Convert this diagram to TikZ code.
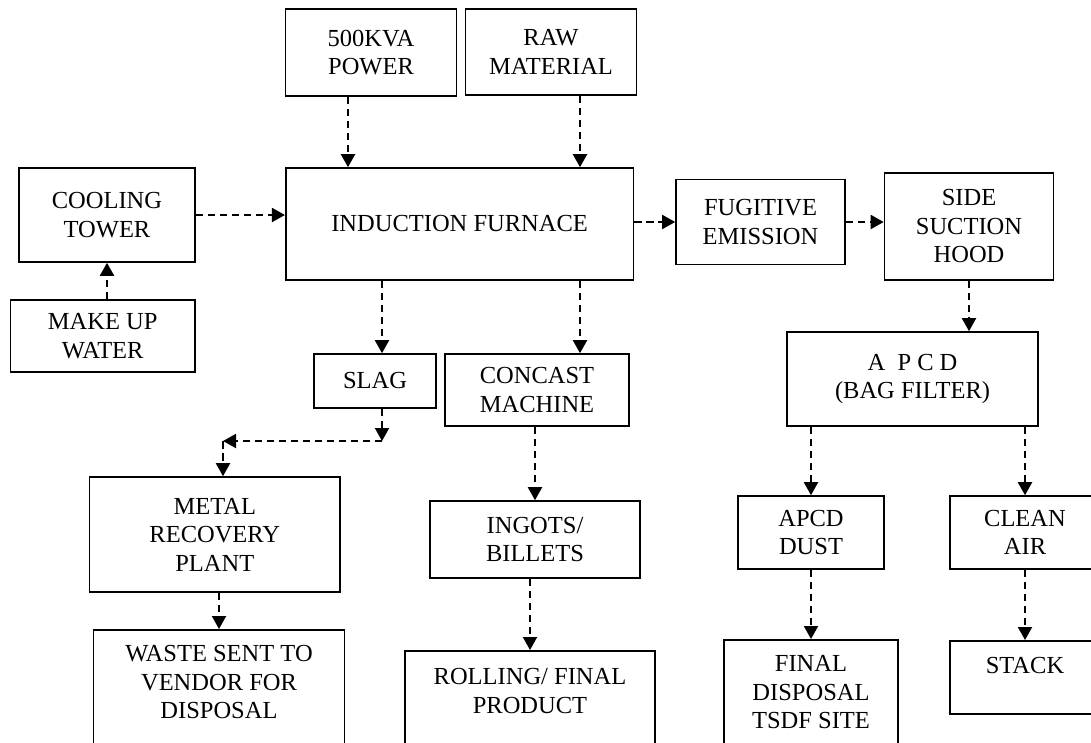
\documentclass[tikz,border=0pt]{standalone}
\usepackage{fontspec}
\setmainfont{Liberation Serif}
\usetikzlibrary{arrows.meta}

\begin{document}
\begin{tikzpicture}[x=1pt,y=-1pt,
    box/.style={draw, line width=1.6pt, align=center, inner sep=0pt, font=\fontsize{24.5}{28.5}\selectfont},
    topbox/.style={box, anchor=north, text height=#1, text depth=130pt},
    flow/.style={line width=2pt, dash pattern=on 7.5pt off 4.5pt, -{Triangle[length=13pt,width=14pt]}}]
            \useasboundingbox (0,0) rectangle (1091,742);
            \clip (0,0) rectangle (1091,742); % bottom and right boxes run off the page
            \node[box, minimum width=171pt, minimum height=87pt]   (b_power)    at (371,52.5)   {500KVA\\POWER};
            \node[box, minimum width=171pt, minimum height=86pt]   (b_raw)      at (551,52)     {RAW\\MATERIAL};
            \node[box, minimum width=347.7pt, minimum height=112pt] (b_furnace) at (459.6,224)  {INDUCTION FURNACE};
            \node[box, minimum width=175.5pt, minimum height=94pt] (b_cooling)  at (107,215)    {COOLING\\TOWER};
            \node[box, minimum width=184.4pt, minimum height=72pt] (b_makeup)   at (102.7,336)  {MAKE UP\\WATER};
            \node[box, minimum width=169pt, minimum height=85pt]   (b_fugitive) at (760.5,222)  {FUGITIVE\\EMISSION};
            \node[box, minimum width=169pt, minimum height=107pt]  (b_hood)     at (969,226.5)  {SIDE\\SUCTION\\HOOD};
            \node[box, minimum width=251pt, minimum height=94pt]   (b_apcd)     at (912.5,379)  {A\ \ P C D\\(BAG FILTER)};
            \node[box, minimum width=121.6pt, minimum height=54pt] (b_slag)     at (375,381)    {SLAG};
            \node[box, minimum width=184.3pt, minimum height=72pt] (b_concast)  at (537,390)    {CONCAST\\MACHINE};
            \node[box, minimum width=250.4pt, minimum height=115pt] (b_metal)   at (214.8,534.5) {METAL\\RECOVERY\\PLANT};
            \node[box, minimum width=209.6pt, minimum height=77pt] (b_ingots)   at (535,539.5)  {INGOTS/\\BILLETS};
            \node[box, minimum width=146pt, minimum height=73pt]   (b_dust)     at (811,532.5)  {APCD\\DUST};
            \node[box, minimum width=150pt, minimum height=73pt]   (b_clean)    at (1025,532.5) {CLEAN\\AIR};
            \node[topbox=89pt, minimum width=251pt]                (b_waste)    at (219,629)    {WASTE SENT TO\\VENDOR FOR\\DISPOSAL};
            \node[topbox=62.5pt, minimum width=250pt]              (b_rolling)  at (530,650)    {ROLLING/ FINAL\\PRODUCT};
            \node[topbox=89pt, minimum width=174pt]                (b_final)    at (811,639)    {FINAL\\DISPOSAL\\TSDF SITE};
            \node[topbox=33pt, text depth=40pt, minimum width=150pt] (b_stack)  at (1025,640)   {STACK};
            \coordinate (c_drop) at (382,441);
            \coordinate (c_turn) at (223,441);
            \path[flow]
            ([xshift=-23pt]b_power.south) edge ([xshift=-23pt]b_power.south |- b_furnace.north)
            ([xshift=29pt]b_raw.south) edge ([xshift=29pt]b_raw.south |- b_furnace.north)
            (b_makeup.north -| b_cooling.south) edge (b_cooling.south)
            (b_cooling.east) edge (b_cooling.east -| b_furnace.west)
            (b_furnace.east |- b_fugitive.west) edge (b_fugitive.west)
            (b_fugitive.east) edge (b_fugitive.east -| b_hood.west)
            (b_hood.south) edge (b_hood.south |- b_apcd.north)
            ([xshift=7pt]b_slag.north |- b_furnace.south) edge ([xshift=7pt]b_slag.north)
            ([xshift=43pt]b_concast.north |- b_furnace.south) edge ([xshift=43pt]b_concast.north)
            ([xshift=7pt]b_slag.south) edge (c_drop)
            (c_drop) edge (c_turn)
            (c_turn) edge (c_turn |- b_metal.north)
            (b_metal.south -| b_waste.north) edge (b_waste.north)
            (b_concast.south -| b_ingots.north) edge (b_ingots.north)
            (b_ingots.south -| b_rolling.north) edge (b_rolling.north)
            (b_dust.north |- b_apcd.south) edge (b_dust.north)
            (b_clean.north |- b_apcd.south) edge (b_clean.north)
            (b_dust) edge (b_final)
            (b_clean) edge (b_stack);
        \end{tikzpicture}
\end{document}
